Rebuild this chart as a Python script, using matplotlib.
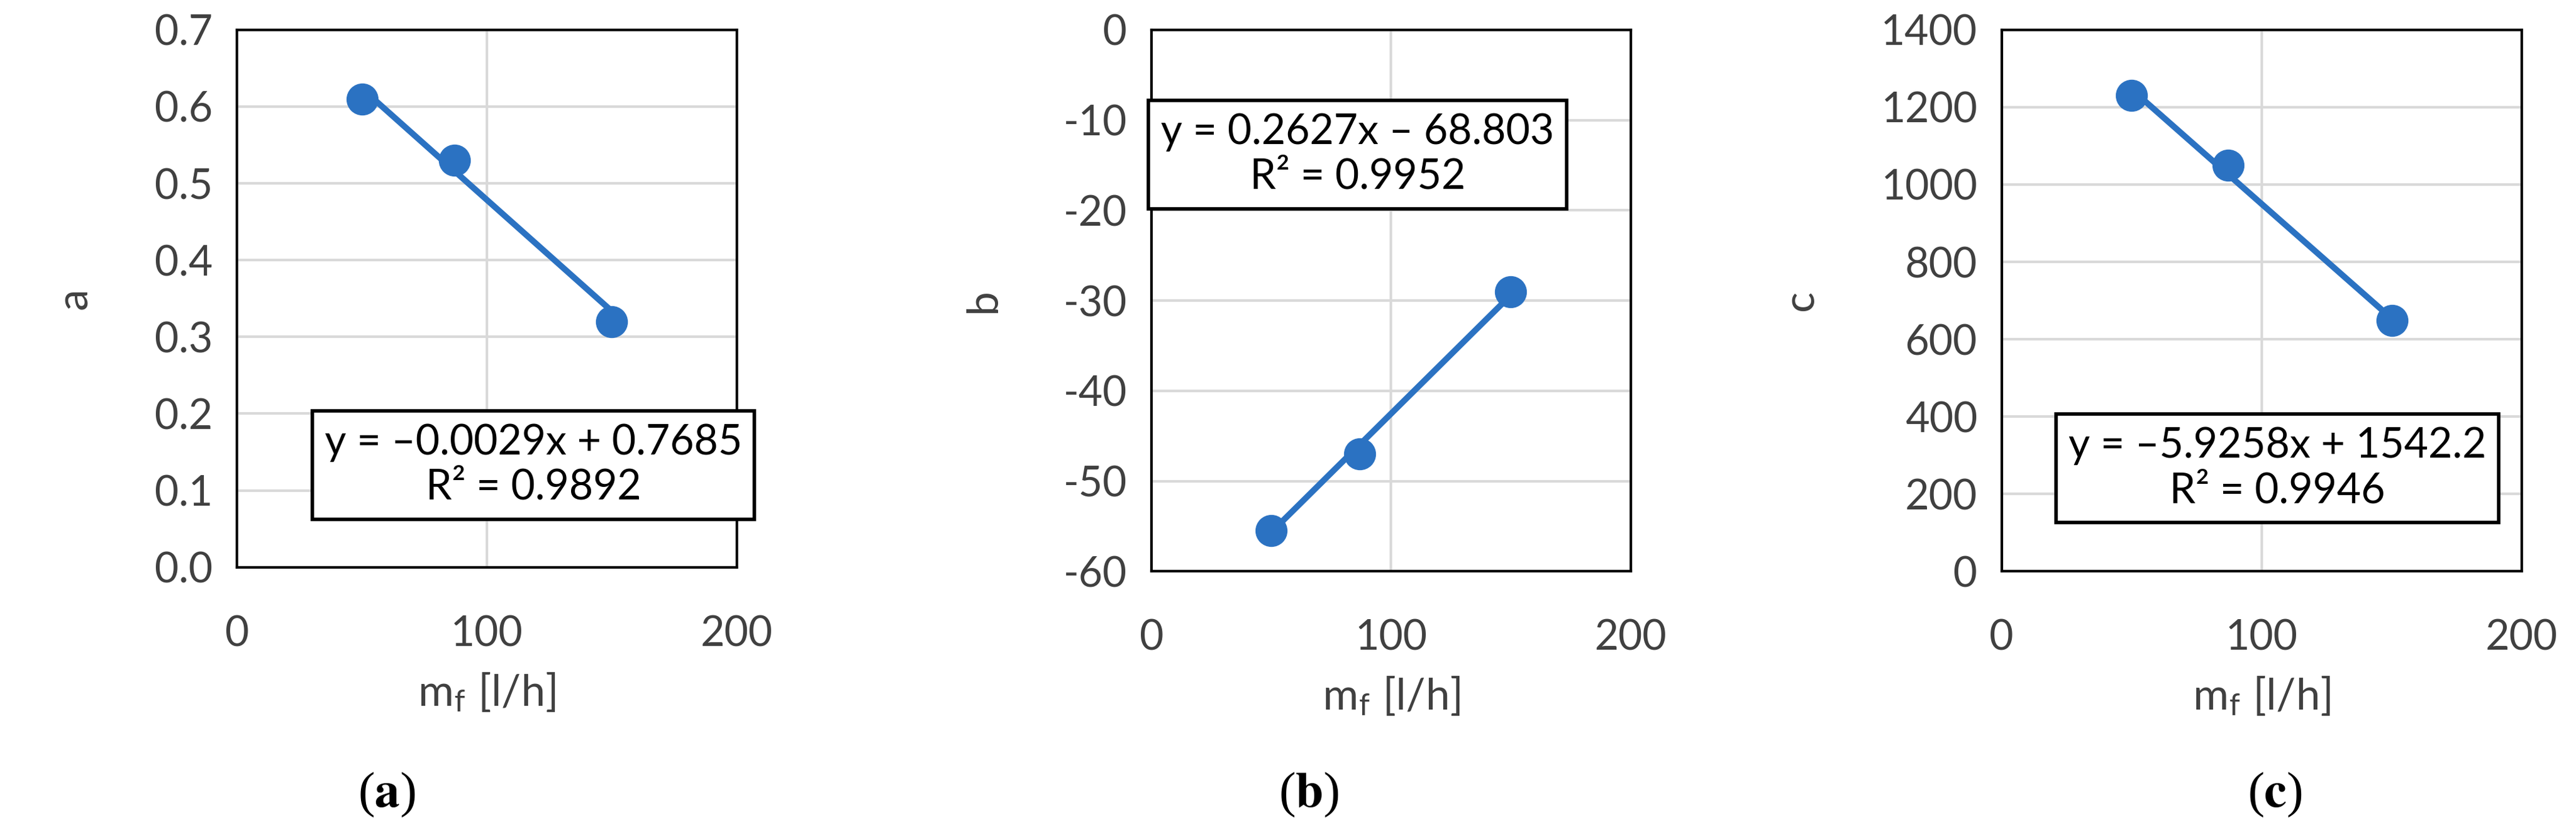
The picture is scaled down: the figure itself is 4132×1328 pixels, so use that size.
import numpy as np
import matplotlib.pyplot as plt

plt.rcParams['font.family'] = ['Lato', 'DejaVu Sans']
plt.rcParams['mathtext.fontset'] = 'stix'

mf = [50, 87, 150]
a_vals = [0.61, 0.53, 0.32]
b_vals = [-55.5, -47.0, -29.0]
c_vals = [1230, 1050, 648]
fits = [(-0.0029, 0.7685), (0.2627, -68.803), (-5.9258, 1542.2)]
eq_text = ['y = \u20130.0029x + 0.7685\nR\u00b2 = 0.9892',
           'y = 0.2627x \u2013 68.803\nR\u00b2 = 0.9952',
           'y = \u20135.9258x + 1542.2\nR\u00b2 = 0.9946']
names = ['a', 'b', 'c']
ylims = [(0, 0.7), (-60, 0), (0, 1400)]
yticks = [np.arange(0, 0.71, 0.1), np.arange(-60, 1, 10), np.arange(0, 1401, 200)]
yfmt = ['{:.1f}', '{:.0f}', '{:.0f}']

rects = [(0.092, 0.315, 0.194, 0.649), (0.447, 0.31, 0.186, 0.654), (0.777, 0.31, 0.202, 0.654)]
box_pos = [(0.593, 0.19), (0.43, 0.77), (0.53, 0.19)]
tags = ['a', 'b', 'c']
tag_x = [0.150, 0.508, 0.883]
blue = '#2b72c2'

fig = plt.figure(figsize=(41.32, 13.28), dpi=100)
for i, y in enumerate([a_vals, b_vals, c_vals]):
    ax = fig.add_axes(rects[i])
    k, d = fits[i]
    xs = np.array([min(mf), max(mf)])
    ax.plot(xs, k * xs + d, color=blue, lw=7, zorder=2)
    ax.plot(mf, y, 'o', color=blue, ms=36, zorder=3)
    ax.set_xlim(0, 200)
    ax.set_ylim(*ylims[i])
    ax.set_xticks([0, 100, 200])
    ax.set_yticks(yticks[i])
    ax.set_yticklabels([yfmt[i].format(v) for v in yticks[i]])
    ax.tick_params(length=0, labelsize=48, colors='#404040')
    ax.tick_params(axis='x', pad=55)
    ax.tick_params(axis='y', pad=28)
    ax.grid(color='#d9d9d9', lw=3)
    ax.set_axisbelow(True)
    for s in ax.spines.values():
        s.set_linewidth(3)
    ax.set_xlabel('m$_\\mathregular{f}$ [l/h]', fontsize=50, color='#404040', labelpad=20)
    ax.set_ylabel(names[i], fontsize=50, color='#404040', labelpad=70)
    ax.text(*box_pos[i], eq_text[i], transform=ax.transAxes, ha='center', va='center',
            fontsize=48, linespacing=1.2, zorder=5, clip_on=False,
            bbox=dict(boxstyle='square,pad=0.3', fc='white', ec='black', lw=4))
    fig.text(tag_x[i], 0.04, '($\\mathbf{%s}$)' % tags[i], ha='center', va='center',
             fontsize=58, family='Liberation Serif')

fig.savefig('out.png')
